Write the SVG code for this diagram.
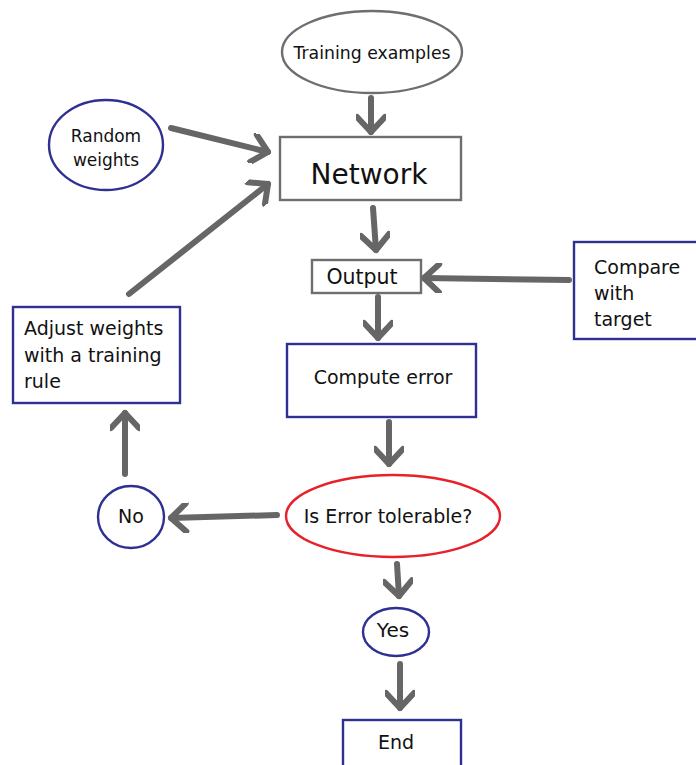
<svg xmlns="http://www.w3.org/2000/svg" width="696" height="765" viewBox="0 0 696 765">
  <style>
    text { font-family: "DejaVu Sans", Verdana, sans-serif; font-size: 19px; fill: #111; }
    .gray { fill: #fff; stroke: #6e6e6e; stroke-width: 2.4; }
    .blue { fill: #fff; stroke: #2e3192; stroke-width: 2.4; }
    .red { fill: #fff; stroke: #e8202a; stroke-width: 2.4; }
    .link { fill: none; stroke: #666; stroke-width: 6; stroke-linecap: round; marker-end: url(#head); }
  </style>
  <defs>
    <marker id="head" viewBox="0 0 30 30" refX="24" refY="15" markerWidth="30" markerHeight="30" markerUnits="userSpaceOnUse" orient="auto">
      <path d="M 9 1 L 24 15 L 9 29" fill="none" stroke="#666" stroke-width="6" stroke-linecap="round" stroke-linejoin="round"/>
    </marker>
  </defs>
  <rect width="696" height="765" fill="#fff"/>

  <g id="connectors">
    <line class="link" x1="371" y1="98" x2="371" y2="132"/>
    <line class="link" x1="171" y1="128" x2="268" y2="152"/>
    <line class="link" x1="129" y1="294" x2="268" y2="184"/>
    <line class="link" x1="373" y1="208" x2="376" y2="250"/>
    <line class="link" x1="569" y1="280" x2="424" y2="278"/>
    <line class="link" x1="378" y1="297" x2="378" y2="338"/>
    <line class="link" x1="389" y1="422" x2="389" y2="464"/>
    <line class="link" x1="277" y1="515" x2="171" y2="518"/>
    <line class="link" x1="125" y1="474" x2="125" y2="413"/>
    <line class="link" x1="397" y1="564" x2="399" y2="596"/>
    <line class="link" x1="400" y1="664" x2="400" y2="708"/>
  </g>

  <g id="training-examples">
    <ellipse class="gray" cx="372" cy="52" rx="90" ry="41"/>
    <text x="372" y="59" text-anchor="middle" style="font-size:17.3px">Training examples</text>
  </g>

  <g id="network">
    <rect class="gray" x="280" y="137" width="181" height="63"/>
    <text x="369" y="184" text-anchor="middle" style="font-size:28px">Network</text>
  </g>

  <g id="random-weights">
    <ellipse class="blue" cx="106" cy="145" rx="57" ry="45"/>
    <text x="106" y="142" text-anchor="middle" style="font-size:17px">Random</text>
    <text x="106" y="166" text-anchor="middle" style="font-size:17px">weights</text>
  </g>

  <g id="output">
    <rect class="gray" x="312" y="260" width="109" height="33"/>
    <text x="362" y="284" text-anchor="middle" style="font-size:20.5px">Output</text>
  </g>

  <g id="compare-with-target">
    <rect class="blue" x="574" y="242" width="130" height="97"/>
    <text x="594" y="274">Compare</text>
    <text x="594" y="300">with</text>
    <text x="594" y="326">target</text>
  </g>

  <g id="compute-error">
    <rect class="blue" x="287" y="344" width="189" height="73"/>
    <text x="383" y="384" text-anchor="middle">Compute error</text>
  </g>

  <g id="adjust-weights">
    <rect class="blue" x="13" y="307" width="167" height="96"/>
    <text x="24" y="335">Adjust weights</text>
    <text x="24" y="362">with a training</text>
    <text x="24" y="388">rule</text>
  </g>

  <g id="is-error-tolerable">
    <ellipse class="red" cx="393" cy="516" rx="107" ry="41"/>
    <text x="388" y="523" text-anchor="middle">Is Error tolerable?</text>
  </g>

  <g id="no">
    <ellipse class="blue" cx="131" cy="517" rx="33" ry="31"/>
    <text x="131" y="523" text-anchor="middle">No</text>
  </g>

  <g id="yes">
    <ellipse class="blue" cx="396" cy="632" rx="33" ry="24"/>
    <text x="393" y="637" text-anchor="middle" style="font-size:20px">Yes</text>
  </g>

  <g id="end">
    <rect class="blue" x="343" y="720" width="118" height="60"/>
    <text x="396" y="749" text-anchor="middle">End</text>
  </g>
</svg>
